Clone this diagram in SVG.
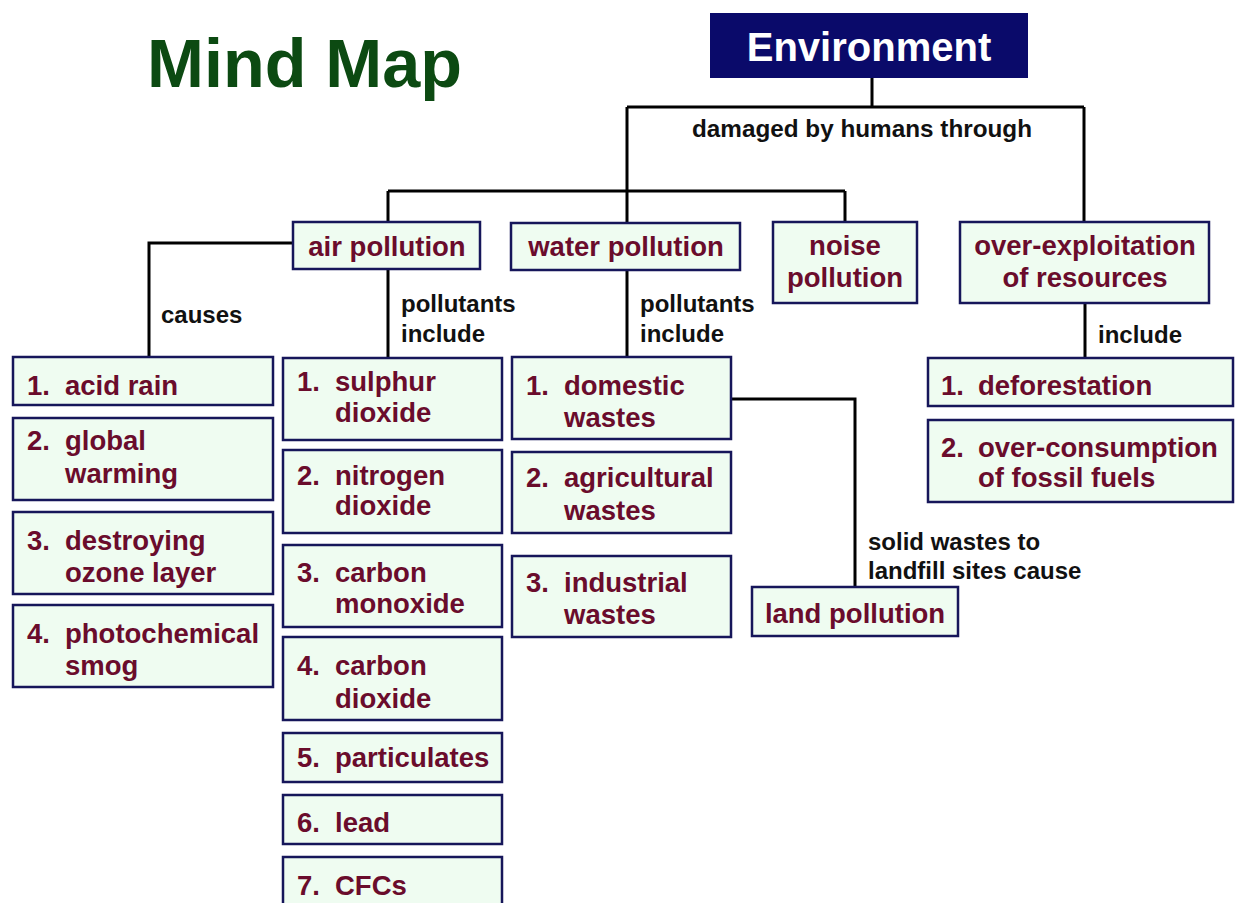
<svg xmlns="http://www.w3.org/2000/svg" width="1235" height="903" viewBox="0 0 1235 903">
<style>
.bx{fill:#effcf1;stroke:#16165a;stroke-width:2.5}
.t{font-family:"Liberation Sans",Arial,sans-serif;font-weight:bold;font-size:27.5px;fill:#6a0c2c}
.c{text-anchor:middle}
.lb{font-family:"Liberation Sans",Arial,sans-serif;font-weight:bold;font-size:24px;fill:#111}
.ln{fill:none;stroke:#000;stroke-width:3}
</style>
<rect width="1235" height="903" fill="#fff"/>
<text x="147" y="87" font-family="Liberation Sans,Arial,sans-serif" font-weight="bold" font-size="68" fill="#0c4a12" textLength="315" lengthAdjust="spacingAndGlyphs">Mind Map</text>
<g id="connectors">
<path class="ln" d="M872,78V107M627,107H1084M627,107V223M1084,107V222M388,191H845M388,191V222M845,191V222M293,243H149V357M388,269V358M627,270V357M1085,303V358M731,399H855V587"/>
<text class="lb" x="692" y="137" textLength="340" lengthAdjust="spacingAndGlyphs">damaged by humans through</text>
<text class="lb" x="161" y="323">causes</text>
<text class="lb" x="401" y="312">pollutants</text>
<text class="lb" x="401" y="342">include</text>
<text class="lb" x="640" y="312">pollutants</text>
<text class="lb" x="640" y="342">include</text>
<text class="lb" x="1098" y="343">include</text>
<text class="lb" x="868" y="550">solid wastes to</text>
<text class="lb" x="868" y="579">landfill sites cause</text>
</g>
<g id="environment">
<rect x="710" y="13" width="318" height="65" fill="#0a0a6a"/>
<text x="869" y="61" text-anchor="middle" font-family="Liberation Sans,Arial,sans-serif" font-weight="bold" font-size="40" fill="#fff">Environment</text>
</g>
<g id="air-pollution"><rect class="bx" x="293" y="222" width="187" height="47"/><text class="t c" x="387" y="256">air pollution</text></g>
<g id="water-pollution"><rect class="bx" x="511" y="223" width="229" height="47"/><text class="t c" x="626" y="256">water pollution</text></g>
<g id="noise-pollution"><rect class="bx" x="773" y="222" width="144" height="81"/><text class="t c" x="845" y="255">noise</text><text class="t c" x="845" y="287">pollution</text></g>
<g id="over-exploitation"><rect class="bx" x="960" y="222" width="249" height="81"/><text class="t c" x="1085" y="255">over-exploitation</text><text class="t c" x="1085" y="287">of resources</text></g>
<g id="acid-rain"><rect class="bx" x="13" y="357" width="260" height="48"/><text class="t" x="27" y="395">1.</text><text class="t" x="65" y="395">acid rain</text></g>
<g id="global-warming"><rect class="bx" x="13" y="418" width="260" height="82"/><text class="t" x="27" y="450">2.</text><text class="t" x="65" y="450">global</text><text class="t" x="65" y="483">warming</text></g>
<g id="ozone"><rect class="bx" x="13" y="512" width="260" height="82"/><text class="t" x="27" y="550">3.</text><text class="t" x="65" y="550">destroying</text><text class="t" x="65" y="582">ozone layer</text></g>
<g id="smog"><rect class="bx" x="13" y="605" width="260" height="82"/><text class="t" x="27" y="643">4.</text><text class="t" x="65" y="643">photochemical</text><text class="t" x="65" y="675">smog</text></g>
<g id="so2"><rect class="bx" x="283" y="358" width="219" height="82"/><text class="t" x="297" y="391">1.</text><text class="t" x="335" y="391">sulphur</text><text class="t" x="335" y="422">dioxide</text></g>
<g id="no2"><rect class="bx" x="283" y="450" width="219" height="83"/><text class="t" x="297" y="485">2.</text><text class="t" x="335" y="485">nitrogen</text><text class="t" x="335" y="515">dioxide</text></g>
<g id="co"><rect class="bx" x="283" y="545" width="219" height="82"/><text class="t" x="297" y="582">3.</text><text class="t" x="335" y="582">carbon</text><text class="t" x="335" y="613">monoxide</text></g>
<g id="co2"><rect class="bx" x="283" y="637" width="219" height="83"/><text class="t" x="297" y="675">4.</text><text class="t" x="335" y="675">carbon</text><text class="t" x="335" y="708">dioxide</text></g>
<g id="particulates"><rect class="bx" x="283" y="733" width="219" height="49"/><text class="t" x="297" y="767">5.</text><text class="t" x="335" y="767">particulates</text></g>
<g id="lead"><rect class="bx" x="283" y="795" width="219" height="49"/><text class="t" x="297" y="832">6.</text><text class="t" x="335" y="832">lead</text></g>
<g id="cfcs"><rect class="bx" x="283" y="857" width="219" height="60"/><text class="t" x="297" y="895">7.</text><text class="t" x="335" y="895">CFCs</text></g>
<g id="domestic"><rect class="bx" x="512" y="357" width="219" height="82"/><text class="t" x="526" y="395">1.</text><text class="t" x="564" y="395">domestic</text><text class="t" x="564" y="427">wastes</text></g>
<g id="agricultural"><rect class="bx" x="512" y="452" width="219" height="81"/><text class="t" x="526" y="487">2.</text><text class="t" x="564" y="487">agricultural</text><text class="t" x="564" y="520">wastes</text></g>
<g id="industrial"><rect class="bx" x="512" y="556" width="219" height="81"/><text class="t" x="526" y="592">3.</text><text class="t" x="564" y="592">industrial</text><text class="t" x="564" y="624">wastes</text></g>
<g id="land-pollution"><rect class="bx" x="752" y="587" width="206" height="49"/><text class="t c" x="855" y="623">land pollution</text></g>
<g id="deforestation"><rect class="bx" x="928" y="358" width="305" height="48"/><text class="t" x="941" y="395">1.</text><text class="t" x="978" y="395">deforestation</text></g>
<g id="fossil-fuels"><rect class="bx" x="928" y="420" width="305" height="82"/><text class="t" x="941" y="457">2.</text><text class="t" x="978" y="457">over-consumption</text><text class="t" x="978" y="487">of fossil fuels</text></g>
</svg>
